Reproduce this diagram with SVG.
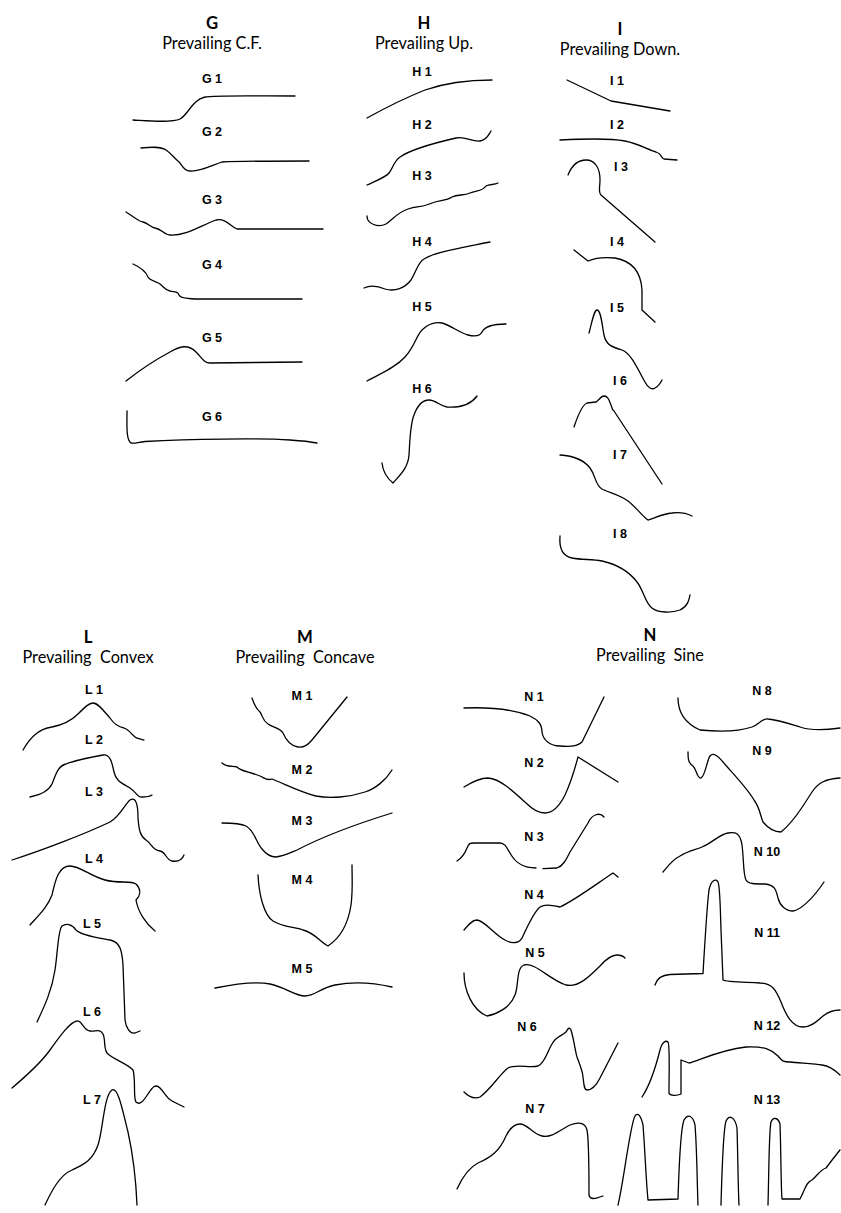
<svg xmlns="http://www.w3.org/2000/svg" width="841" height="1213" viewBox="0 0 841 1213">
<style>
.c{fill:none;stroke:#000;stroke-width:1.3;stroke-linecap:round;stroke-linejoin:round}
.h{font-family:Lato,"Liberation Sans",sans-serif;font-size:16.3px;fill:#000;text-anchor:middle}
.hb{font-family:Lato,"Liberation Sans",sans-serif;font-size:16.7px;font-weight:bold;fill:#000;text-anchor:middle}
.l{font-family:"Liberation Sans",Arial,sans-serif;font-size:12.5px;font-weight:bold;fill:#000;text-anchor:middle}
</style>
<rect width="841" height="1213" fill="#fff"/>
<g id="header-G"><text class="hb" x="212" y="29">G</text><text class="h" x="212" y="49">Prevailing C.F.</text></g>
<g id="header-H"><text class="hb" x="424" y="29">H</text><text class="h" x="424" y="49">Prevailing Up.</text></g>
<g id="header-I"><text class="hb" x="620" y="35">I</text><text class="h" x="620" y="55">Prevailing Down.</text></g>
<g id="header-L"><text class="hb" x="88" y="643">L</text><text class="h" x="88" y="663" xml:space="preserve">Prevailing  Convex</text></g>
<g id="header-M"><text class="hb" x="305" y="643">M</text><text class="h" x="305" y="663" xml:space="preserve">Prevailing  Concave</text></g>
<g id="header-N"><text class="hb" x="650" y="641">N</text><text class="h" x="650" y="661" xml:space="preserve">Prevailing  Sine</text></g>

<g id="G1"><text class="l" x="212" y="83">G 1</text><path class="c" d="M133,120 C150,121 172,123 180,119 C188,115 192,100 205,97 C215,95 260,96 295,96"/></g>
<g id="G2"><text class="l" x="212" y="136">G 2</text><path class="c" d="M141,148 C150,147 160,146 166,150 C172,154 174,158 178,161 C182,164 183,171 190,171 C200,172 210,166 222,162 C240,161 280,161 309,161"/></g>
<g id="G3"><text class="l" x="212" y="204">G 3</text><path class="c" d="M126,212 C133,216 138,221 143,222 C148,223 150,227 155,228 C162,229 164,235 170,235 C185,236 200,226 216,220 C226,218 230,226 237,229 L323,229"/></g>
<g id="G4"><text class="l" x="212" y="269">G 4</text><path class="c" d="M133,264 C142,268 146,272 148,277 C150,281 156,281 160,284 C164,287 165,290 170,291 C176,292 178,292 179,295 C180,298 190,299 200,299 L302,299"/></g>
<g id="G5"><text class="l" x="212" y="342">G 5</text><path class="c" d="M126,381 C140,370 155,360 170,352 C180,346 188,344 196,352 C202,358 204,363 210,363 L302,362"/></g>
<g id="G6"><text class="l" x="212" y="421">G 6</text><path class="c" d="M127,411 C127,425 126,440 131,443 C135,444 138,442 145,441.5 C190,439 260,438 290,440 C305,441 312,442 317,443"/></g>

<g id="H1"><text class="l" x="422" y="76">H 1</text><path class="c" d="M367,118 C385,108 405,98 425,90 C445,83 470,80 492,80"/></g>
<g id="H2"><text class="l" x="422" y="129">H 2</text><path class="c" d="M367,185 C378,180 386,177 389,173 C393,168 394,161 400,157 C410,150 430,144 456,138 C465,136 472,142 480,141 C487,140 489,134 491,131"/></g>
<g id="H3"><text class="l" x="422" y="180">H 3</text><path class="c" d="M367,216 C367,224 378,228 386,224 C392,220 398,212 408,209 C418,206 424,207 432,203 C440,200 446,201 452,197 C458,194 464,196 470,193 C476,190 482,192 486,186 C490,184 494,185 498,183"/></g>
<g id="H4"><text class="l" x="422" y="246">H 4</text><path class="c" d="M364,288 C370,285 378,286 385,289 C395,292 405,288 411,280 C416,272 418,262 424,259 C435,252 460,248 490,242"/></g>
<g id="H5"><text class="l" x="422" y="311">H 5</text><path class="c" d="M367,381 C380,374 395,368 405,357 C415,346 416,336 422,330 C428,324 436,322 442,323 C450,325 460,333 468,335 C476,337 480,336 482,332 C485,326 495,324 506,324"/></g>
<g id="H6"><text class="l" x="422" y="393">H 6</text><path class="c" d="M382,463 C383,472 388,479 393,483 C400,475 408,468 409,455 C410,440 410,425 414,415 C418,404 423,400 429,400 C436,400 440,406 447,407 C462,408 472,403 477,396"/></g>

<g id="I1"><text class="l" x="617" y="85">I 1</text><path class="c" d="M567,80 L611,101 L670,111"/></g>
<g id="I2"><text class="l" x="617" y="129">I 2</text><path class="c" d="M560,140 C580,139 610,138 625,141 C640,144 648,150 656,152 C662,154 661,158 664,159 L677,160"/></g>
<g id="I3"><text class="l" x="621" y="171">I 3</text><path class="c" d="M568,175 C572,165 578,160 586,160 C595,160 600,168 600,180 C600,188 598,192 601,195 L655,242"/></g>
<g id="I4"><text class="l" x="617" y="246">I 4</text><path class="c" d="M574,250 L588,261 C595,258 605,257 615,258 C632,261 641,272 642,290 L642,310 L655,322"/></g>
<g id="I5"><text class="l" x="617" y="312">I 5</text><path class="c" d="M589,333 C592,322 594,310 597,310 C601,310 602,325 604,335 C606,345 612,347 622,350 C632,354 638,370 645,382 C648,388 652,390 655,388 C659,386 661,382 662,380"/></g>
<g id="I6"><text class="l" x="620" y="385">I 6</text><path class="c" d="M574,427 C578,415 582,405 587,403 L596,402 C599,400 601,396 604,396 C608,396 609,400 611,405 C613,410 612,410 614,411 L662,484"/></g>
<g id="I7"><text class="l" x="620" y="459">I 7</text><path class="c" d="M560,455 C575,456 584,460 590,468 C596,476 595,485 602,489 C610,493 620,495 628,501 C636,507 642,516 648,520 C655,518 662,514 672,513 C680,512 688,514 692,516"/></g>
<g id="I8"><text class="l" x="620" y="538">I 8</text><path class="c" d="M560,536 C559,548 562,556 572,558 C582,560 592,559 602,561 C615,564 628,570 637,582 C644,591 645,603 652,608 C658,613 672,613 680,610 C688,606 689,600 690,595"/></g>

<g id="L1"><text class="l" x="94" y="694">L 1</text><path class="c" d="M23,750 C30,738 38,729 52,727 C62,725 70,722 78,714 C85,707 89,703 93,703 C98,703 103,710 110,718 C114,724 118,727 124,728 C130,730 133,737 137,738 L144,740"/></g>
<g id="L2"><text class="l" x="94" y="744">L 2</text><path class="c" d="M30,797 C40,795 48,792 52,784 C56,774 58,766 66,764 C76,760 92,757 103,755 C110,754 112,762 114,772 C116,782 124,784 130,788 C136,792 138,798 142,797 C146,797 149,797 152,795"/></g>
<g id="L3"><text class="l" x="94" y="796">L 3</text><path class="c" d="M12,860 C40,851 85,834 110,822 C120,816 125,804 130,800 C136,796 138,805 138,818 C139,830 140,836 146,840 C152,844 152,850 160,851 C166,852 166,860 172,861 C178,862 182,860 184,855"/></g>
<g id="L4"><text class="l" x="94" y="863">L 4</text><path class="c" d="M30,925 C40,914 48,906 52,895 C55,882 58,866 70,866 C80,866 90,876 105,880 C120,884 130,880 136,884 C142,890 140,896 136,900 C138,912 146,924 155,931"/></g>
<g id="L5"><text class="l" x="92" y="928">L 5</text><path class="c" d="M37,1022 C45,1005 52,990 55,970 C58,950 58,930 62,926 C66,923 72,924 76,930 C82,936 100,938 110,940 C120,942 122,950 123,965 L125,1020 C126,1028 130,1034 135,1033 L140,1031"/></g>
<g id="L6"><text class="l" x="92" y="1016">L 6</text><path class="c" d="M12,1088 C25,1077 40,1064 50,1050 C60,1036 70,1022 77,1021 C82,1020 83,1030 90,1031 C95,1032 100,1028 103,1034 C106,1040 103,1050 108,1054 C115,1060 128,1064 133,1070 C136,1080 133,1098 136,1102 C140,1106 144,1100 148,1094 C152,1088 155,1083 160,1088 C165,1093 166,1098 172,1101 L184,1107"/></g>
<g id="L7"><text class="l" x="92" y="1104">L 7</text><path class="c" d="M45,1205 C52,1190 60,1175 72,1170 C82,1165 92,1162 98,1145 C103,1130 104,1095 112,1090 C118,1087 122,1108 128,1132 C133,1155 136,1180 137,1205"/></g>

<g id="M1"><text class="l" x="302" y="700">M 1</text><path class="c" d="M252,698 C254,704 256,709 260,712 C263,716 262,720 268,724 C274,728 280,728 283,733 C286,740 290,746 298,747 C303,748 307,746 312,740 L347,697"/></g>
<g id="M2"><text class="l" x="302" y="774">M 2</text><path class="c" d="M222,763 C226,767 232,766 237,767 C240,771 250,772 260,776 C265,778 266,781 272,779 C285,784 300,792 316,796 C330,799 350,797 365,792 C375,789 386,780 392,770"/></g>
<g id="M3"><text class="l" x="302" y="825">M 3</text><path class="c" d="M222,823 C232,823 240,823 246,826 C254,830 256,842 262,849 C266,854 270,857 276,857 C284,856 290,853 297,850 C320,838 350,826 392,813"/></g>
<g id="M4"><text class="l" x="302" y="884">M 4</text><path class="c" d="M258,875 C259,895 264,915 273,921 C282,927 295,927 303,930 C315,933 320,942 328,946 C340,938 348,925 351,905 C353,890 352,878 352,865"/></g>
<g id="M5"><text class="l" x="302" y="973">M 5</text><path class="c" d="M215,988 C235,984 255,981 270,984 C285,987 295,996 305,996 C315,996 320,988 335,985 C355,981 375,983 392,987"/></g>

<g id="N1"><text class="l" x="534" y="701">N 1</text><path class="c" d="M464,708 C490,707 515,710 530,716 C538,720 542,724 542,732 C543,740 550,746 560,746 C570,747 578,746 582,742 L604,697"/></g>
<g id="N2"><text class="l" x="534" y="767">N 2</text><path class="c" d="M464,787 C472,782 480,778 488,778 C500,779 512,790 526,803 C533,810 538,813 545,813 C553,813 560,805 565,795 C572,780 575,768 578,757 L618,782"/></g>
<g id="N3"><text class="l" x="534" y="841">N 3</text><path class="c" d="M457,861 C462,858 465,853 467,848 C469,843 470,843 474,843 L500,843 C505,843 507,848 510,853 C516,864 524,868 536,868"/><path class="c" d="M543,868.7 L557,868 C563,866 566,860 570,852 L588,823 C592,814 600,812 604,817"/></g>
<g id="N4"><text class="l" x="534" y="899">N 4</text><path class="c" d="M464,930 C468,925 472,920 477,920 C485,921 495,935 505,940 C512,944 520,944 523,936 C528,925 534,912 540,907 C545,904 550,905 560,907 C575,900 595,885 613,873 L618,877"/></g>
<g id="N5"><text class="l" x="535" y="957">N 5</text><path class="c" d="M464,973 C464,990 472,1010 487,1016 C497,1014 510,1008 515,995 C519,985 516,968 524,965 C535,962 550,980 566,985 C578,988 590,976 600,966 C607,958 613,955 617,955 C621,955 624,957 625,958"/></g>
<g id="N6"><text class="l" x="527" y="1031">N 6</text><path class="c" d="M464,1092 C470,1098 475,1099 480,1097 C490,1090 500,1074 508,1068 C515,1064 530,1068 538,1066 C545,1063 547,1052 552,1044 C556,1036 562,1036 566,1032 C568,1029 569,1026 571,1030 C574,1040 575,1050 577,1057 C580,1065 583,1072 583,1077 C584,1085 584,1090 587,1090 C592,1090 596,1086 600,1078 L618,1043"/></g>
<g id="N7"><text class="l" x="535" y="1113">N 7</text><path class="c" d="M457,1189 C462,1178 468,1168 478,1163 C492,1157 500,1150 506,1136 C510,1128 514,1124 520,1124 C528,1124 532,1134 542,1136 C552,1138 560,1130 570,1125 C578,1122 585,1122 587,1130 C589,1140 589,1170 589,1195 C590,1200 595,1199 603,1196"/></g>
<g id="N8"><text class="l" x="762" y="695">N 8</text><path class="c" d="M678,698 C678,710 682,722 700,730 C720,732 740,731 752,727 C760,724 762,718 768,719 C778,720 790,724 800,727 C812,731 826,730 840,728"/></g>
<g id="N9"><text class="l" x="762" y="755">N 9</text><path class="c" d="M688,752 C688,758 688,763 693,766 C697,770 697,779 701,778 C705,777 707,760 710,756 C713,752 718,756 723,762 C735,776 747,788 754,800 C760,808 760,815 763,822 C768,828 775,832 781,832 C790,825 797,815 803,806 L812,792 C818,783 825,779 840,778"/></g>
<g id="N10"><text class="l" x="767" y="856">N 10</text><path class="c" d="M663,872 C668,866 672,860 680,856 C688,851 695,850 702,847 C712,843 720,834 728,833 C735,832 740,832 742,845 C744,860 743,874 746,880 C748,884 755,884 765,884 C775,885 776,890 778,898 C780,906 786,911 793,911 C800,910 812,900 824,882"/></g>
<g id="N11"><text class="l" x="767" y="937">N 11</text><path class="c" d="M655,985 C657,978 662,975 670,974.5 L703,973.5 C705,940 707,905 709,890 C711,880 716,878 718,882 C720,886 720,900 721,930 L723,980 C726,982 740,982 760,983 C772,983 776,990 781,1002 C786,1015 792,1027 803,1027 C812,1027 818,1020 823,1016 C828,1012 834,1010 840,1010"/></g>
<g id="N12"><text class="l" x="767" y="1030">N 12</text><path class="c" d="M642,1097 C650,1085 655,1070 660,1050 C662,1042 666,1040 668,1042 C670,1045 669,1070 669,1093 C670,1096 677,1096 681,1094 L681,1060 L689,1063 C700,1060 720,1050 746,1047 C765,1046 772,1050 778,1056 C782,1061 783,1062 790,1062 C800,1063 815,1064 822,1065 C830,1066 836,1071 840,1075"/></g>
<g id="N13"><text class="l" x="767" y="1104">N 13</text><path class="c" d="M618,1205 C624,1180 630,1125 635,1116 C638,1112 641,1116 643,1125 C645,1150 646,1180 648,1200 L678,1199 C679,1170 680,1130 684,1120 C688,1113 693,1116 695,1125 C697,1150 697,1180 698,1205"/><path class="c" d="M721,1205 C722,1170 723,1130 726,1121 C729,1114 735,1117 737,1128 C738,1160 738,1185 739,1205"/><path class="c" d="M768,1205 C769,1170 769,1130 771,1122 C773,1117 778,1117 780,1124 C781,1150 781,1190 782,1199 L800,1199 C805,1190 806,1182 812,1180 C818,1175 820,1170 826,1168 C832,1160 836,1155 840,1150"/></g>
</svg>
